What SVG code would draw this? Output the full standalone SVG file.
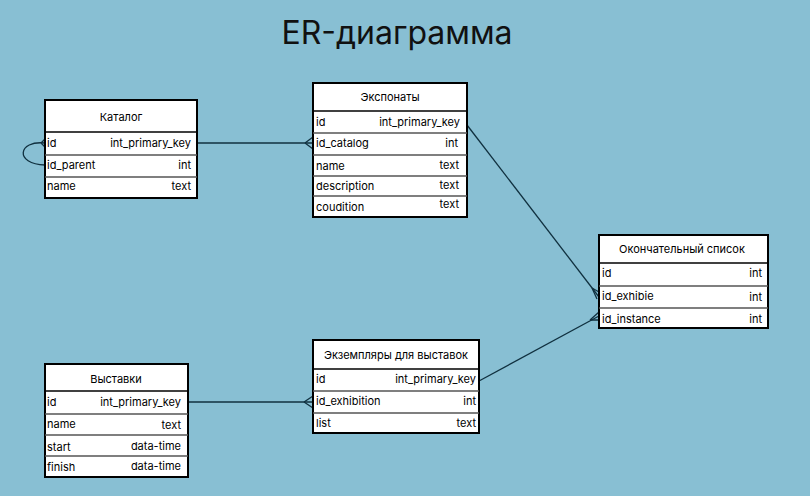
<svg xmlns="http://www.w3.org/2000/svg" width="810" height="496" viewBox="0 0 810 496">
<style>
.box{fill:#fff;stroke:#000;stroke-width:2}
.hsep{stroke:#000;stroke-width:1.5}
.sep{stroke:#555;stroke-width:1.5}
text{font-family:Inter,"Noto Sans","Liberation Sans",sans-serif;fill:#000}
.h{font-size:11px;text-anchor:middle}
.f{font-size:11px}
.t{font-size:11px;text-anchor:end}
.title{font-size:32px;text-anchor:middle;fill:#111}
.c{fill:none;stroke:#10303f;stroke-width:1.3}
</style>
<rect width="810" height="496" fill="#88bfd3"/>
<text class="title" x="397" y="44">ER-диаграмма</text>

<g id="connectors">
  <line class="c" x1="197" y1="143" x2="313" y2="143"/>
  <path class="c" d="M305,143 L313,137 M305,143 L313,149"/>
  <path class="c" d="M45,143 C18,140 14,164 45,165"/>
  <path class="c" d="M41,143 L45,139 M41,143 L45,147"/>
  <line class="c" x1="467" y1="125" x2="599" y2="297"/>
  <path class="c" d="M592,288 L599,292 M592,288 L597,299"/>
  <line class="c" x1="479" y1="381" x2="599" y2="316"/>
  <path class="c" d="M590,320 L599,312 M590,320 L599,320"/>
  <line class="c" x1="187" y1="402" x2="313" y2="402"/>
  <path class="c" d="M304,402 L313,396 M304,402 L313,408"/>
</g>

<g id="katalog">
  <rect class="box" x="45" y="100" width="152" height="98"/>
  <line class="hsep" x1="45" y1="132" x2="197" y2="132"/>
  <line class="sep" x1="45" y1="155" x2="197" y2="155"/>
  <line class="sep" x1="45" y1="177" x2="197" y2="177"/>
  <text class="h" x="121" y="121">Каталог</text>
  <text class="f" x="47" y="147">id</text><text class="t" x="191" y="147">int_primary_key</text>
  <text class="f" x="47" y="169">id_parent</text><text class="t" x="191" y="169">int</text>
  <text class="f" x="47" y="190">name</text><text class="t" x="191" y="190">text</text>
</g>

<g id="eksponaty">
  <rect class="box" x="313" y="83" width="154" height="134"/>
  <line class="hsep" x1="313" y1="111" x2="467" y2="111"/>
  <line class="sep" x1="313" y1="133" x2="467" y2="133"/>
  <line class="sep" x1="313" y1="155" x2="467" y2="155"/>
  <line class="sep" x1="313" y1="176" x2="467" y2="176"/>
  <line class="sep" x1="313" y1="196" x2="467" y2="196"/>
  <text class="h" x="390" y="101">Экспонаты</text>
  <text class="f" x="316" y="126">id</text><text class="t" x="460" y="126">int_primary_key</text>
  <text class="f" x="316" y="147">id_catalog</text><text class="t" x="458" y="147">int</text>
  <text class="f" x="316" y="170">name</text><text class="t" x="459" y="169">text</text>
  <text class="f" x="316" y="190">description</text><text class="t" x="459" y="189">text</text>
  <text class="f" x="316" y="211">coudition</text><text class="t" x="459" y="208">text</text>
</g>

<g id="final-list">
  <rect class="box" x="599" y="235" width="169" height="93"/>
  <line class="hsep" x1="599" y1="263" x2="768" y2="263"/>
  <line class="sep" x1="599" y1="286" x2="768" y2="286"/>
  <line class="sep" x1="599" y1="308" x2="768" y2="308"/>
  <text class="h" x="682" y="253">Окончательный список</text>
  <text class="f" x="602" y="277">id</text><text class="t" x="762" y="277">int</text>
  <text class="f" x="602" y="300">id_exhibie</text><text class="t" x="762" y="301">int</text>
  <text class="f" x="602" y="323">id_instance</text><text class="t" x="762" y="323">int</text>
</g>

<g id="vystavki">
  <rect class="box" x="45" y="364" width="143" height="113"/>
  <line class="hsep" x1="45" y1="391" x2="188" y2="391"/>
  <line class="sep" x1="45" y1="414" x2="188" y2="414"/>
  <line class="sep" x1="45" y1="435" x2="188" y2="435"/>
  <line class="sep" x1="45" y1="456" x2="188" y2="456"/>
  <text class="h" x="116" y="383">Выставки</text>
  <text class="f" x="47" y="406">id</text><text class="t" x="181" y="406">int_primary_key</text>
  <text class="f" x="47" y="428">name</text><text class="t" x="181" y="429">text</text>
  <text class="f" x="47" y="451">start</text><text class="t" x="181" y="450">data-time</text>
  <text class="f" x="47" y="471">finish</text><text class="t" x="181" y="470">data-time</text>
</g>

<g id="ekzemplyary">
  <rect class="box" x="313" y="340" width="166" height="93"/>
  <line class="hsep" x1="313" y1="369" x2="479" y2="369"/>
  <line class="sep" x1="313" y1="391" x2="479" y2="391"/>
  <line class="sep" x1="313" y1="413" x2="479" y2="413"/>
  <text class="h" x="396" y="359">Экземпляры для выставок</text>
  <text class="f" x="316" y="383">id</text><text class="t" x="476" y="383">int_primary_key</text>
  <text class="f" x="316" y="405">id_exhibition</text><text class="t" x="476" y="405">int</text>
  <text class="f" x="316" y="427">list</text><text class="t" x="476" y="427">text</text>
</g>
</svg>
